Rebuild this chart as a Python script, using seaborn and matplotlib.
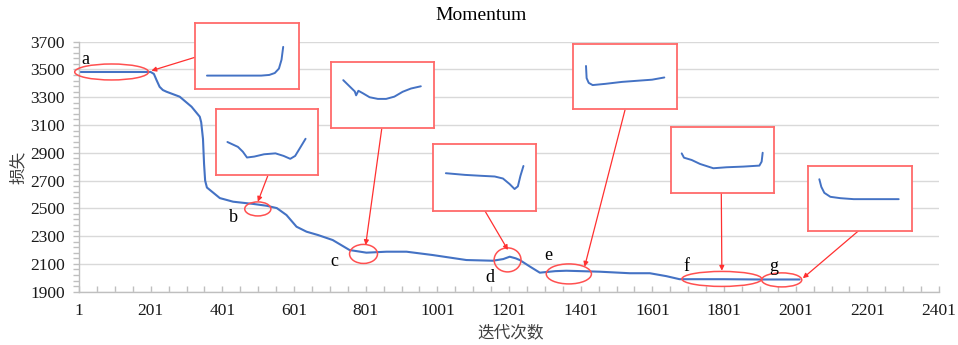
import matplotlib
matplotlib.use("Agg")
import matplotlib.pyplot as plt
from matplotlib.patches import Ellipse
import numpy as np
import pandas as pd
import seaborn as sns

# ---------------- data ----------------
iterations = [1, 100, 201, 210, 218, 226, 235, 245, 282, 315, 338, 342, 347, 350, 353, 358,
              394, 431, 487, 524, 553, 580, 608, 636, 668, 709, 756, 803, 859, 915,
              988, 1082, 1156, 1185, 1203, 1220, 1231, 1260, 1287, 1330, 1361, 1454,
              1538, 1594, 1640, 1677, 1800, 1900, 2012]
loss = [3482, 3482, 3482, 3468, 3420, 3375, 3352, 3340, 3304, 3232, 3160, 3120, 3000, 2820,
        2700, 2650, 2574, 2548, 2532, 2519, 2502, 2452, 2368, 2332, 2308, 2272, 2200,
        2181, 2188, 2188, 2164, 2128, 2123, 2135, 2152, 2140, 2128, 2080, 2037, 2048,
        2051, 2044, 2033, 2033, 2012, 1990, 1990, 1988, 1988]

x_ticks = [1, 201, 401, 601, 801, 1001, 1201, 1401, 1601, 1801, 2001, 2201, 2401]
y_ticks = [1900, 2100, 2300, 2500, 2700, 2900, 3100, 3300, 3500, 3700]

labels = ["a", "b", "c", "d", "e", "f", "g"]
label_x = [20, 431, 715, 1148, 1310, 1695, 1941]
label_y = [3575, 2431, 2114, 1999, 2164, 2078, 2085]

# ellipse centres / sizes (data units)
ell_x = [92, 500, 795, 1197, 1368, 1795, 1962]
ell_y = [3482, 2496, 2172, 2129, 2028, 1992, 1985]
ell_w = [206, 73, 78, 75, 126, 223, 112]
ell_h = [115, 101, 137, 173, 144, 108, 101]

# arrow targets (data units)
arr_x = [203, 500, 801, 1198, 1412, 1795, 2021]
arr_y = [3491, 2548, 2236, 2200, 2080, 2051, 1997]

# zoomed inset curves (inset-local 0..100 units)
inset_a_x = [11.5, 63.7, 71.4, 76.7, 80.7, 83.2, 84.8]
inset_a_y = [20.3, 20.3, 21.3, 24.2, 30.9, 44.4, 63.8]
inset_b_x = [11.2, 21.5, 26.3, 30.4, 37.5, 47.1, 58.3, 66.3, 72.8, 77.6, 83.0, 87.8]
inset_b_y = [50.0, 42.6, 35.3, 26.5, 27.9, 31.4, 32.8, 28.9, 24.5, 28.9, 42.6, 54.9]
inset_c_x = [11.9, 18.3, 23.1, 24.4, 26.6, 31.1, 37.5, 45.5, 53.5, 61.5, 69.6, 77.6, 87.2]
inset_c_y = [72.5, 62.7, 55.4, 49.5, 56.4, 52.5, 46.6, 44.1, 44.1, 47.5, 54.9, 59.8, 63.2]
inset_d_x = [12.5, 31.1, 47.1, 59.9, 67.9, 74.4, 79.2, 82.4, 84.9, 87.8]
inset_d_y = [56.4, 53.9, 52.5, 51.5, 48.5, 40.2, 32.8, 36.8, 52.5, 67.2]
inset_e_x = [12.5, 13.1, 15.1, 18.9, 31.1, 47.1, 63.1, 76.0, 87.8]
inset_e_y = [66.2, 47.5, 40.2, 36.8, 38.7, 41.7, 43.6, 45.1, 48.5]
inset_f_x = [10.4, 12.6, 20.1, 28.2, 41.1, 54.0, 70.2, 85.8, 88.0, 89.0]
inset_f_y = [60.0, 53.5, 50.0, 44.0, 37.5, 39.0, 40.0, 41.5, 47.5, 61.0]
inset_g_x = [10.9, 12.8, 15.7, 21.5, 31.1, 43.9, 87.2]
inset_g_y = [79.6, 67.9, 58.7, 52.6, 50.5, 49.0, 49.0]

# ---------------- layout (pixels) ----------------
W, H = 958, 345
box_px = [(195, 23, 299, 89), (216, 109, 318, 175), (331, 62, 434, 128),
          (433, 144, 536, 211), (573, 44, 677, 109), (671, 127, 774, 193),
          (808, 166, 912, 231)]
arrow_src_px = [(196, 57), (267.7, 176), (381.7, 129), (485, 211), (625, 110),
                (721.3, 193.3), (858.3, 231)]

BLUE = "#4472C4"
RED_BOX = "#FF6A6A"
RED = "#FF3030"
TXT = "#1a1a1a"

sns.set_theme(style="white")
plt.rcParams["font.family"] = ["Liberation Serif", "Noto Sans CJK SC"]


def fr(l, t, r, b):
    return [l / W, 1 - b / H, (r - l) / W, (b - t) / H]


fig = plt.figure(figsize=(W / 100, H / 100), dpi=100)
fig.patch.set_facecolor("white")
ax = fig.add_axes(fr(79, 41.7, 939, 291.7))

df = pd.DataFrame({"iter": iterations, "loss": loss})
sns.lineplot(data=df, x="iter", y="loss", ax=ax, color=BLUE, lw=1.5, sort=False, zorder=2)

ax.set_xlim(1, 2401)
ax.set_ylim(1900, 3700)
ax.set_xticks(x_ticks)
ax.set_xticklabels([str(v) for v in x_ticks])
ax.set_xticks(np.arange(51, 2402, 50), minor=True)
ax.set_yticks(y_ticks)
ax.set_yticklabels([str(v) for v in y_ticks])
ax.set_yticks(np.arange(1900, 3701, 40), minor=True)
ax.grid(axis="y", which="major", color="#d9d9d9", lw=1)
ax.set_axisbelow(True)
for s in ["top", "right"]:
    ax.spines[s].set_visible(False)
for s in ["left", "bottom"]:
    ax.spines[s].set_color("#bfbfbf")
    ax.spines[s].set_linewidth(1)
ax.tick_params(axis="x", which="both", direction="in", length=4, width=1,
               color="#bfbfbf", labelsize=12.5, pad=8, labelcolor=TXT, bottom=True)
ax.tick_params(axis="y", which="both", direction="out", length=4, width=1,
               color="#bfbfbf", labelsize=12.5, pad=6, labelcolor=TXT, left=True)
ax.set_xlabel("")
ax.set_ylabel("")

# ellipses and letters
for i in range(len(labels)):
    ax.add_patch(Ellipse((ell_x[i], ell_y[i]), ell_w[i], ell_h[i], fill=False,
                         ec="#FF5050", lw=1.1, zorder=3, clip_on=False))
    ax.text(label_x[i], label_y[i], labels[i], ha="center", va="center",
            fontsize=13, color="black", family="Liberation Serif", zorder=4)
    sx, sy = arrow_src_px[i]
    ax.annotate("", xy=(arr_x[i], arr_y[i]), xycoords="data",
                xytext=(sx / W, 1 - sy / H), textcoords="figure fraction",
                arrowprops=dict(arrowstyle="-|>", color=RED, lw=0.9,
                                mutation_scale=7, shrinkA=0, shrinkB=0),
                annotation_clip=False, zorder=4)

# titles / labels
fig.text(481.5 / W, 1 - 15 / H, "Momentum", ha="center", va="center",
         fontsize=14, color="black", family="Liberation Serif")
fig.text(511 / W, 1 - 333 / H, "迭代次数", ha="center", va="center",
         fontsize=12, color="#404040", family=["Noto Sans CJK SC"])
fig.text(18 / W, 1 - 167 / H, "损失", ha="center", va="center", rotation=90,
         fontsize=12, color="#404040", family=["Noto Sans CJK SC"])

# insets
insets = [(inset_a_x, inset_a_y), (inset_b_x, inset_b_y), (inset_c_x, inset_c_y),
          (inset_d_x, inset_d_y), (inset_e_x, inset_e_y), (inset_f_x, inset_f_y),
          (inset_g_x, inset_g_y)]
for (xs, ys), rect in zip(insets, box_px):
    iax = fig.add_axes(fr(*rect))
    iax.set_facecolor("white")
    sns.lineplot(x=xs, y=ys, ax=iax, color=BLUE, lw=1.4, sort=False)
    iax.set_xlim(0, 100)
    iax.set_ylim(0, 100)
    iax.set_xticks([])
    iax.set_yticks([])
    iax.set_xlabel("")
    iax.set_ylabel("")
    for s in iax.spines.values():
        s.set_visible(True)
        s.set_color(RED_BOX)
        s.set_linewidth(1.3)

fig.savefig("out.png", dpi=100, facecolor="white")
